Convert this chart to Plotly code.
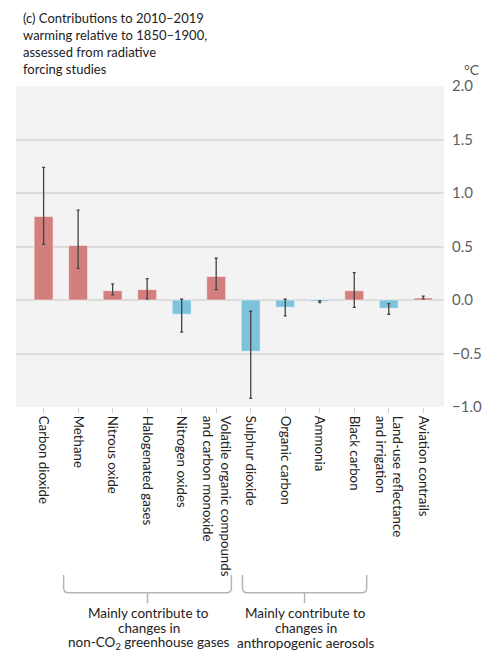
import plotly.graph_objects as go

# contributions to 2010-2019 warming (deg C)
categories = [
    "Carbon dioxide", "Methane", "Nitrous oxide", "Halogenated gases",
    "Nitrogen oxides", "Volatile organic compounds<br>and carbon monoxide",
    "Sulphur dioxide", "Organic carbon", "Ammonia", "Black carbon",
    "Land-use reflectance<br>and irrigation", "Aviation contrails",
]
values = [0.78, 0.51, 0.087, 0.097, -0.133, 0.22, -0.48, -0.068, -0.015, 0.087, -0.077, 0.019]
low = [0.52, 0.295, 0.047, 0.01, -0.30, 0.097, -0.92, -0.149, -0.025, -0.068, -0.133, 0.01]
high = [1.24, 0.84, 0.15, 0.20, 0.007, 0.39, -0.105, 0.007, -0.007, 0.255, -0.034, 0.037]
y_ticks = [-1.0, -0.5, 0.0, 0.5, 1.0, 1.5, 2.0]

RED = "#d37f7e"
BLUE = "#7dc3dc"
FONT = "Lato, 'Open Sans', sans-serif"

x = list(range(len(categories)))
colors = [RED if v >= 0 else BLUE for v in values]

fig = go.Figure()
fig.add_trace(go.Bar(
    x=x, y=values,
    width=0.55,
    marker=dict(color=colors, line=dict(color="rgba(255,255,255,0.5)", width=1)),
    error_y=dict(
        type="data", symmetric=False,
        array=[h - v for h, v in zip(high, values)],
        arrayminus=[v - l for v, l in zip(values, low)],
        color="#444444", thickness=1.3, width=1.5,
    ),
    hoverinfo="skip",
))

# brackets grouping the precursor categories
bracket_col = "#b5b5b5"
y_top, y_bot, y_tip = -0.523, -0.579, -0.611
ry = 0.016
rx = 0.14
for x0, x1 in [(0.58, 5.44), (5.76, 9.36)]:
    xc = (x0 + x1) / 2
    path = (f"M {x0},{y_top} L {x0},{y_bot + ry} Q {x0},{y_bot} {x0 + rx},{y_bot} "
            f"L {x1 - rx},{y_bot} Q {x1},{y_bot} {x1},{y_bot + ry} L {x1},{y_top}")
    fig.add_shape(type="path", path=path, xref="x", yref="paper",
                  line=dict(color=bracket_col, width=1.5))
    fig.add_shape(type="line", x0=xc, x1=xc, y0=y_bot, y1=y_tip, xref="x", yref="paper",
                  line=dict(color=bracket_col, width=1.5))

group_text = [
    (3.05, ["Mainly contribute to", "changes in", "non-CO<sub>2</sub> greenhouse gases"]),
    (7.6, ["Mainly contribute to", "changes in", "anthropogenic aerosols"]),
]
for xc, lines in group_text:
    for i, line in enumerate(lines):
        fig.add_annotation(x=xc, y=-0.641 - i * 0.047, xref="x", yref="paper",
                           text=line, showarrow=False, xanchor="center", yanchor="middle",
                           font=dict(family=FONT, size=13.5, color="#222222"))

fig.add_annotation(
    x=0.012, y=1.243, xref="paper", yref="paper", xanchor="left", yanchor="top",
    align="left", showarrow=False,
    text="(c) Contributions to 2010–2019<br>warming relative to 1850–1900,<br>"
         "assessed from radiative<br>forcing studies",
    font=dict(family=FONT, size=13, color="#222222"),
)
fig.add_annotation(
    x=1.066, y=1.05, xref="paper", yref="paper", xanchor="center", yanchor="middle",
    showarrow=False, text="°C", font=dict(family=FONT, size=14, color="#555555"),
)

# the page puts the figure 8px in from the top-left corner
fig.update_layout(
    width=482, height=656,
    margin=dict(l=8, r=43, t=78, b=257),
    paper_bgcolor="white",
    plot_bgcolor="#f3f3f3",
    showlegend=False,
    font=dict(family=FONT, size=13, color="#222222"),
)
fig.update_xaxes(
    tickmode="array", tickvals=x, ticktext=categories,
    range=[-0.8, 11.6], tickangle=90,
    ticks="outside", ticklen=5, tickcolor="#d0d0d0",
    showgrid=False, zeroline=False, showline=False,
    tickfont=dict(family=FONT, size=13.3, color="#222222"),
    fixedrange=True,
)
fig.update_yaxes(
    side="right", range=[-1.0, 2.0], tickvals=y_ticks,
    tickformat=".1f", ticks="", ticklabelstandoff=7,
    showgrid=True, gridcolor="#dcdcdc", gridwidth=1.5,
    zeroline=True, zerolinecolor="#dcdcdc", zerolinewidth=1.5,
    tickfont=dict(family=FONT, size=15, color="#5f5f5f"),
    fixedrange=True,
)

fig.write_html("out.html")
